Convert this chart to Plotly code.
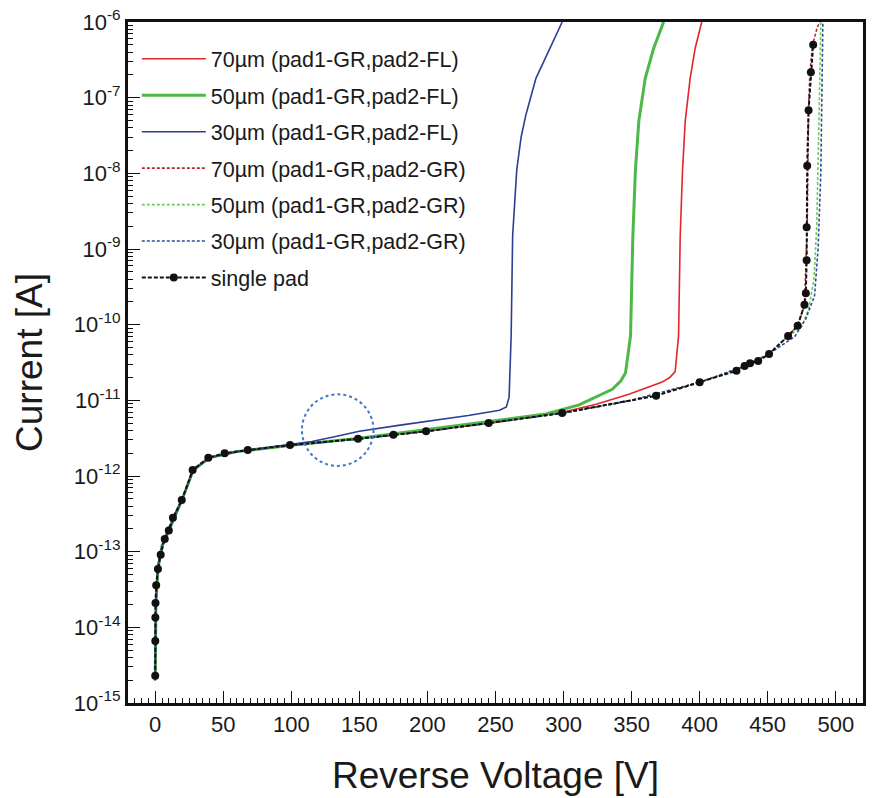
import plotly.graph_objects as go

# ---------------- data ----------------
# 70um pad1-GR, pad2-FL (solid red)
v_70fl = [0, 0.5, 2, 5, 10, 15, 20, 28, 40, 60, 100, 150, 200, 250, 300, 324, 348, 365, 372, 378, 382, 384.5, 385.7, 387.4, 389.4, 393, 396.7, 401.5]
i_70fl = [2e-15, 2e-14, 6e-14, 1.2e-13, 1.9e-13, 3e-13, 5e-13, 1.2e-12, 1.75e-12, 2.1e-12, 2.55e-12, 3.1e-12, 3.95e-12, 5.1e-12, 7.0e-12, 8.9e-12, 1.2e-11, 1.55e-11, 1.73e-11, 2.0e-11, 2.4e-11, 7.1e-11, 1.45e-9, 1.1e-8, 4.9e-8, 1.8e-7, 4.5e-7, 1e-6]

# 50um pad1-GR, pad2-FL (solid green)
v_50fl = [0, 0.5, 2, 5, 10, 15, 20, 28, 40, 60, 100, 150, 200, 250, 287, 311.4, 335.8, 342, 345.5, 349.2, 350.9, 352.8, 355.3, 360, 366.2, 373.5]
i_50fl = [2e-15, 2e-14, 6e-14, 1.2e-13, 1.9e-13, 3e-13, 5e-13, 1.2e-12, 1.75e-12, 2.1e-12, 2.55e-12, 3.15e-12, 4.1e-12, 5.4e-12, 6.6e-12, 8.7e-12, 1.4e-11, 1.8e-11, 2.3e-11, 7.1e-11, 1.45e-9, 1.1e-8, 4.9e-8, 1.8e-7, 4.5e-7, 1e-6]

# 30um pad1-GR, pad2-FL (solid blue)
v_30fl = [0, 0.5, 2, 5, 10, 15, 20, 28, 40, 60, 100, 115, 130, 150, 180, 200, 230, 253, 258, 260, 261.5, 262.6, 265.6, 268.8, 272.4, 279.7, 287, 299]
i_30fl = [2e-15, 2e-14, 6e-14, 1.2e-13, 1.9e-13, 3e-13, 5e-13, 1.2e-12, 1.75e-12, 2.1e-12, 2.6e-12, 2.85e-12, 3.25e-12, 3.9e-12, 4.7e-12, 5.3e-12, 6.3e-12, 7.4e-12, 8.2e-12, 1.1e-11, 7.1e-11, 1.5e-9, 1.1e-8, 3.0e-8, 6.0e-8, 1.8e-7, 3.4e-7, 1e-6]

# 70um pad1-GR, pad2-GR (dashed dark red)
v_70gr = [0, 0.1, 1, 3, 7, 13, 20, 28, 40, 60, 100, 150, 200, 250, 300, 350, 400, 430, 450, 465, 472, 477, 479, 480, 481, 483, 486, 488]
i_70gr = [2e-15, 1e-14, 4e-14, 9e-14, 1.5e-13, 2.8e-13, 5e-13, 1.2e-12, 1.75e-12, 2.1e-12, 2.55e-12, 3.1e-12, 3.9e-12, 5.1e-12, 6.8e-12, 1.0e-11, 1.73e-11, 2.7e-11, 4.0e-11, 7.1e-11, 9.7e-11, 1.8e-10, 1.9e-9, 6.8e-8, 2.2e-7, 5e-7, 8e-7, 1e-6]

# 50um pad1-GR, pad2-GR (dashed light green)
v_50gr = [0, 0.1, 1, 3, 7, 13, 20, 28, 40, 60, 100, 150, 200, 250, 300, 350, 400, 430, 450, 465, 475, 480, 484, 486, 487, 488, 489]
i_50gr = [2e-15, 1e-14, 4e-14, 9e-14, 1.5e-13, 2.8e-13, 5e-13, 1.2e-12, 1.75e-12, 2.1e-12, 2.55e-12, 3.1e-12, 3.9e-12, 5.1e-12, 6.8e-12, 1.0e-11, 1.73e-11, 2.7e-11, 4.0e-11, 7.0e-11, 9.5e-11, 1.6e-10, 4e-10, 2e-9, 1e-8, 1e-7, 1e-6]

# 30um pad1-GR, pad2-GR (dashed navy)
v_30gr = [0, 0.1, 1, 3, 7, 13, 20, 28, 40, 60, 100, 150, 200, 250, 300, 350, 400, 430, 450, 470, 478, 484.4, 487, 489, 490, 490.5]
i_30gr = [2e-15, 1e-14, 4e-14, 9e-14, 1.5e-13, 2.8e-13, 5e-13, 1.2e-12, 1.75e-12, 2.1e-12, 2.55e-12, 3.1e-12, 3.9e-12, 5.1e-12, 6.8e-12, 1.0e-11, 1.73e-11, 2.7e-11, 4.0e-11, 7.0e-11, 1.2e-10, 2.4e-10, 1e-9, 1e-8, 1e-7, 1e-6]

# single pad (black dashed with markers)
v_sp = [0, 0.05, 0.1, 0.2, 0.7, 2, 4, 7, 10, 13, 19.5, 27.5, 39, 51, 68, 99, 149, 175, 199, 245, 299, 368, 400, 427, 433, 437, 443, 451, 465, 472, 477, 478, 478.6, 478.6, 479, 480, 481.7, 483.4]
i_sp = [2.3e-15, 6.6e-15, 1.35e-14, 2.1e-14, 3.6e-14, 5.9e-14, 9.1e-14, 1.47e-13, 1.9e-13, 2.8e-13, 4.8e-13, 1.2e-12, 1.74e-12, 2.0e-12, 2.2e-12, 2.56e-12, 3.1e-12, 3.5e-12, 3.9e-12, 5.0e-12, 6.8e-12, 1.15e-11, 1.73e-11, 2.46e-11, 2.85e-11, 3.1e-11, 3.3e-11, 4.1e-11, 7.1e-11, 9.7e-11, 1.83e-10, 2.6e-10, 7.1e-10, 1.94e-9, 1.26e-8, 6.8e-8, 2.16e-7, 5e-7]

x_ticks = [0, 50, 100, 150, 200, 250, 300, 350, 400, 450, 500]
y_exps = [-15, -14, -13, -12, -11, -10, -9, -8, -7, -6]
y_ticks = [10.0 ** e for e in y_exps]
y_ticktext = ["10<sup>%d</sup>" % e for e in y_exps]

# highlighted region (dotted circle): centre ~134 V, ~3.5e-12 A
circle_v = [107.8, 160.4]
circle_i = [1.36e-12, 1.2e-11]

# ---------------- figure ----------------
FONT = "Liberation Sans, Arial, sans-serif"
fig = go.Figure()

series = [
    ("70µm (pad1-GR,pad2-FL)", v_70fl, i_70fl, dict(color="#e3262c", width=1.6)),
    ("50µm (pad1-GR,pad2-FL)", v_50fl, i_50fl, dict(color="#4cb847", width=3)),
    ("30µm (pad1-GR,pad2-FL)", v_30fl, i_30fl, dict(color="#2b3f94", width=1.6)),
    ("70µm (pad1-GR,pad2-GR)", v_70gr, i_70gr, dict(color="#b02a2c", width=1.6, dash="3px,2px")),
    ("50µm (pad1-GR,pad2-GR)", v_50gr, i_50gr, dict(color="#6cc95a", width=1.6, dash="3px,2px")),
    ("30µm (pad1-GR,pad2-GR)", v_30gr, i_30gr, dict(color="#2f4a9a", width=1.6, dash="3px,2px")),
]
for k, (name, vx, iy, ln) in enumerate(series):
    fig.add_trace(go.Scatter(x=vx, y=iy, mode="lines", name=name, line=ln,
                             legendgroup="g%d" % k))

fig.add_trace(go.Scatter(x=v_sp, y=i_sp, mode="lines+markers", name="single pad",
                         line=dict(color="#111111", width=2, dash="4px,2px"),
                         marker=dict(color="#111111", size=8),
                         legendgroup="g7"))

fig.add_shape(type="circle", xref="x", yref="y",
              x0=circle_v[0], x1=circle_v[1], y0=circle_i[0], y1=circle_i[1],
              line=dict(color="#3d78c9", width=2, dash="dot"))

fig.update_layout(
    width=872, height=798,
    margin=dict(l=128, r=6, t=17, b=95),
    paper_bgcolor="white", plot_bgcolor="white",
    font=dict(family=FONT, color="#1a1a1a", size=18),
    showlegend=True,
    legend=dict(x=0.012, y=0.976, xanchor="left", yanchor="top",
                bgcolor="rgba(255,255,255,0)", borderwidth=0,
                font=dict(family=FONT, size=21.5, color="#1a1a1a"),
                tracegroupgap=5.5, itemwidth=64),
    xaxis=dict(range=[-20, 520], tickvals=x_ticks, ticks="inside", ticklen=12,
               tickwidth=1.2, tickcolor="#111", showgrid=False, zeroline=False,
               showline=True, linecolor="#111", linewidth=3, mirror=True,
               tickfont=dict(size=22),
               minor=dict(ticks="inside", ticklen=5, dtick=5, tick0=0, tickcolor="#111", tickwidth=1),
               title=dict(text="Reverse Voltage [V]", font=dict(size=37), standoff=26)),
    yaxis=dict(type="log", range=[-15, -6], tickvals=y_ticks, ticktext=y_ticktext,
               ticks="inside", ticklen=12, tickwidth=1.2, tickcolor="#111",
               showgrid=False, zeroline=False,
               showline=True, linecolor="#111", linewidth=3, mirror=True,
               tickfont=dict(size=22),
               minor=dict(ticks="inside", ticklen=5, dtick="D1", tickcolor="#111", tickwidth=1),
               title=dict(text="Current [A]", font=dict(size=37), standoff=20)),
)

fig.write_html("out.html")
